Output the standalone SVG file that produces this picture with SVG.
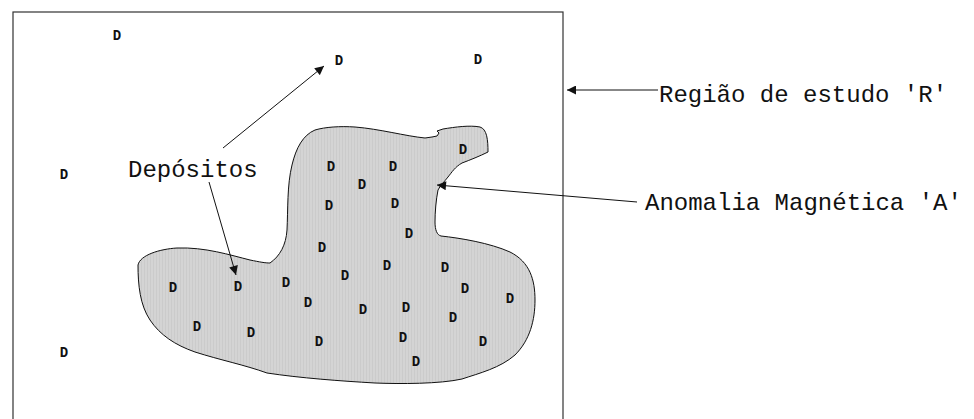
<svg xmlns="http://www.w3.org/2000/svg" width="974" height="419" viewBox="0 0 974 419">
<style>
.lbl{font-family:"Liberation Mono","Courier New",monospace;font-size:24px;fill:#111}
.d{font-family:"Liberation Mono","Courier New",monospace;font-size:14px;font-weight:bold;fill:#111;text-anchor:middle}
.ln{stroke:#111;stroke-width:1;fill:none}
</style>
<defs>
<marker id="ah" viewBox="0 0 10 10" refX="10" refY="5" markerWidth="11" markerHeight="9" markerUnits="userSpaceOnUse" orient="auto">
<path d="M0,0 L10,5 L0,10 Z" fill="#111"/>
</marker>
<pattern id="stripes" width="3" height="10" patternUnits="userSpaceOnUse">
<rect width="3" height="10" fill="#d4d4d4"/>
<rect width="1" height="10" fill="#cbcbcb"/>
</pattern>
</defs>
<rect width="974" height="419" fill="#fff"/>
<g id="regiao">
<rect x="13" y="12" width="550" height="430" fill="none" stroke="#333" stroke-width="1.2"/>
</g>
<g id="anomalia">
<path d="M 270,263 C 280,256 286,245 287,230 C 288,210 287,185 292,165 C 296,148 303,135 315,130 C 325,127 340,126 355,127 C 380,129 405,136 425,138 L 432,137 L 437,136 L 439,133 L 437,131 L 443,129 C 455,127 470,125 480,127 C 487,129 488,140 488,152 C 480,156 470,160 462,163 C 455,167 452,172 448,177 C 444,182 440,186 438,190 C 436,200 435,212 435,222 C 435,230 437,235 441,236 C 460,238 490,243 510,252 C 530,262 535,280 535,300 C 535,320 530,340 515,355 C 500,368 480,373 462,379 C 440,384 400,384 375,383 C 340,381 300,378 267,373 C 245,365 220,360 195,352 C 175,345 160,335 150,320 C 140,305 138,285 138,265 C 140,255 160,249 177,248 C 205,247 230,255 250,260 C 260,262 265,263 270,263 Z" fill="url(#stripes)" stroke="#111" stroke-width="1"/>
</g>
<g id="depositos">
<text class="d" x="117" y="40">D</text>
<text class="d" x="64" y="179">D</text>
<text class="d" x="339" y="65">D</text>
<text class="d" x="478" y="64">D</text>
<text class="d" x="463" y="154">D</text>
<text class="d" x="331" y="171">D</text>
<text class="d" x="393" y="171">D</text>
<text class="d" x="362" y="189">D</text>
<text class="d" x="329" y="210">D</text>
<text class="d" x="395" y="208">D</text>
<text class="d" x="409" y="238">D</text>
<text class="d" x="322" y="252">D</text>
<text class="d" x="387" y="270">D</text>
<text class="d" x="445" y="272">D</text>
<text class="d" x="345" y="280">D</text>
<text class="d" x="173" y="292">D</text>
<text class="d" x="238" y="291">D</text>
<text class="d" x="286" y="287">D</text>
<text class="d" x="308" y="307">D</text>
<text class="d" x="363" y="314">D</text>
<text class="d" x="406" y="312">D</text>
<text class="d" x="465" y="293">D</text>
<text class="d" x="510" y="303">D</text>
<text class="d" x="453" y="322">D</text>
<text class="d" x="197" y="331">D</text>
<text class="d" x="251" y="337">D</text>
<text class="d" x="319" y="346">D</text>
<text class="d" x="403" y="342">D</text>
<text class="d" x="483" y="346">D</text>
<text class="d" x="416" y="366">D</text>
<text class="d" x="64" y="357">D</text>
</g>
<g id="labels">
<text class="lbl" x="128" y="177">Depósitos</text>
<text class="lbl" x="659" y="102">Região de estudo 'R'</text>
<text class="lbl" x="645" y="210">Anomalia Magnética 'A'</text>
</g>
<g id="connectors">
<line class="ln" x1="223" y1="148" x2="324" y2="66" marker-end="url(#ah)"/>
<line class="ln" x1="209" y1="182" x2="236" y2="275" marker-end="url(#ah)"/>
<line class="ln" x1="658" y1="90" x2="567" y2="90" marker-end="url(#ah)"/>
<line class="ln" x1="637" y1="202" x2="437" y2="185" marker-end="url(#ah)"/>
</g>
</svg>
